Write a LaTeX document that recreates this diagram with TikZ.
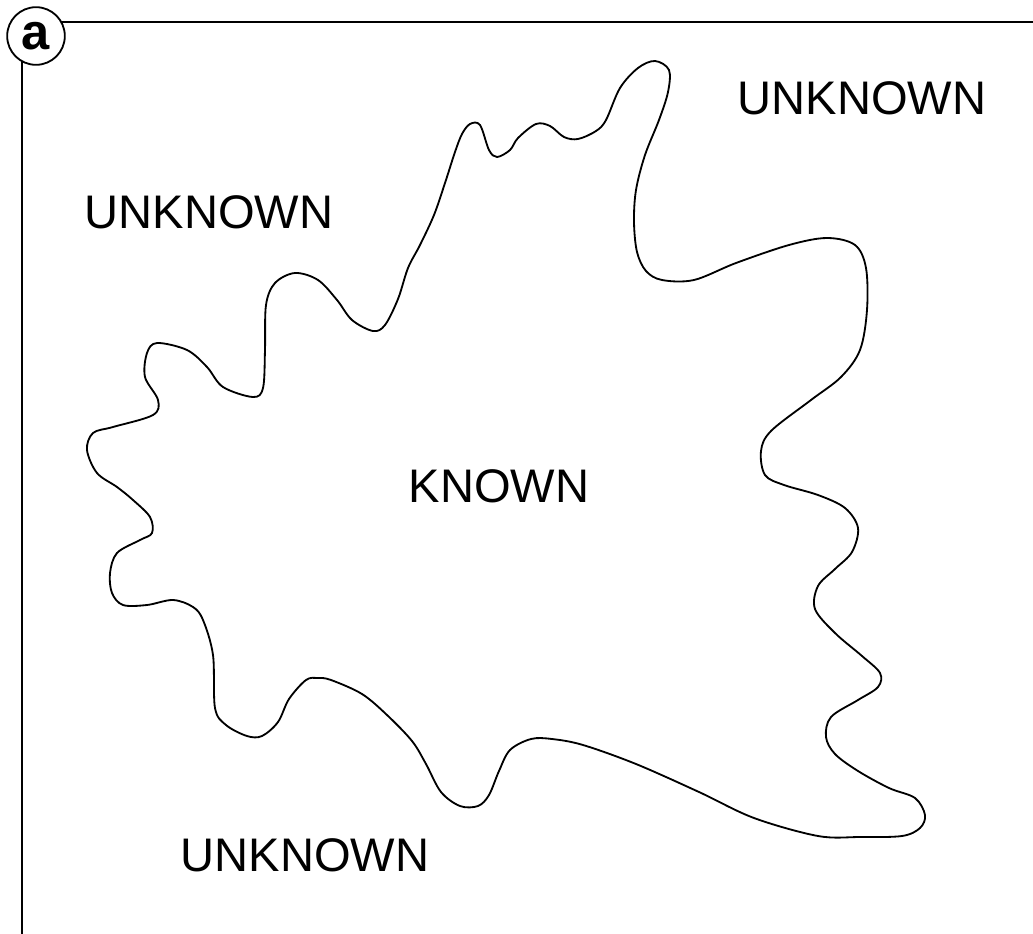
\documentclass[tikz,border=0pt]{standalone}
\usepackage{fontspec}
\setmainfont{Liberation Sans}
\setsansfont{Liberation Sans}

\begin{document}
\begin{tikzpicture}[x=0.025cm,y=-0.025cm]
\tikzset{
  frame/.style={line width=1.8pt},
  outline/.style={line width=1.3pt,line join=round},
  regionlabel/.style={inner sep=0pt,font=\fontsize{33.5}{40}\selectfont},
  tag/.style={circle,draw,line width=1.3pt,fill=white,minimum size=41pt,inner sep=0pt,font=\fontsize{36}{40}\selectfont\bfseries}
}
\useasboundingbox (0,0) rectangle (1033,934);
\coordinate (corner) at (22,22);
\coordinate (topend) at (1033,22);
\coordinate (leftend) at (22,934);
\draw[frame] (leftend) -- (corner) -- (topend);
\node[tag] (tag_a) at (36,36) {a};
% boundary of the known area
\draw[outline] plot[smooth cycle,tension=0.55] coordinates {
  (655,61) (669,70) (668,92) (659,120) (645,155) (636,190) (634,222)
  (637,252) (646,271) (662,280) (694,280) (736,263) (789,245) (827,238)
  (855,245) (866,268) (867,310) (860,350) (841,377) (811,400) (771,431)
  (761,451) (765,475) (784,485) (818,495) (845,508) (858,528) (852,552)
  (835,569) (818,586) (815,609) (835,633) (862,656) (880,673) (878,687)
  (858,700) (831,717) (826,737) (835,754) (858,771) (889,788) (915,798)
  (925,815) (920,828) (902,836) (860,837) (818,836) (754,818) (699,792)
  (636,764) (583,745) (552,739) (531,739) (510,750) (499,771) (489,795)
  (478,806) (460,806) (441,792) (426,764) (412,741) (387,715) (362,694)
  (331,680) (318,678) (306,680) (289,699) (278,722) (262,736) (247,736)
  (226,725) (215,708) (213,655) (203,620) (193,607) (173,600) (147,605)
  (123,605) (112,593) (110,573) (117,553) (140,540) (152,533) (150,517)
  (133,500) (117,487) (97,473) (87,450) (93,433) (113,427) (153,415)
  (158,400) (145,377) (147,353) (157,343) (187,350) (207,367) (223,387)
  (253,397) (263,388) (265,350) (266,305) (275,283) (295,273) (318,280)
  (337,300) (352,320) (373,331) (385,325) (398,299) (408,268) (420,245)
  (434,215) (445,183) (455,152) (462,134) (470,124) (480,125) (489,150)
  (497,157) (510,150) (518,138) (536,124) (550,126) (564,137) (578,139)
  (596,131) (606,120) (620,88) (638,68)
};
\node[regionlabel] (unknown_tr) at (862,98) {UNKNOWN};
\node[regionlabel] (unknown_l) at (209,212) {UNKNOWN};
\node[regionlabel] (unknown_b) at (305,855) {UNKNOWN};
\node[regionlabel] (known) at (499,486) {KNOWN};
\end{tikzpicture}
\end{document}
